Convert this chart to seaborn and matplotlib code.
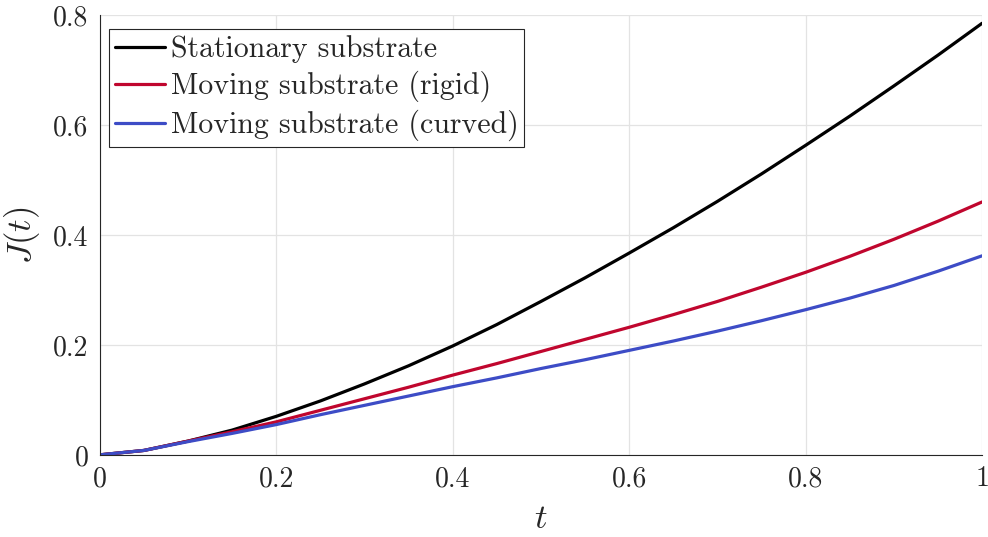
import numpy as np
import pandas as pd
import seaborn as sns
import matplotlib
matplotlib.use("Agg")
import matplotlib.pyplot as plt
from matplotlib.ticker import FuncFormatter

# Flux J(t) over time for three substrate configurations
t = [0.00, 0.05, 0.10, 0.15, 0.20, 0.25, 0.30, 0.35, 0.40, 0.45, 0.50,
     0.55, 0.60, 0.65, 0.70, 0.75, 0.80, 0.85, 0.90, 0.95, 1.00]
j_stationary = [0.000, 0.008, 0.025, 0.045, 0.070, 0.098, 0.129, 0.162, 0.198, 0.237, 0.279,
                0.322, 0.367, 0.413, 0.461, 0.511, 0.563, 0.616, 0.671, 0.727, 0.785]
j_rigid = [0.000, 0.008, 0.025, 0.042, 0.060, 0.081, 0.102, 0.123, 0.145, 0.166, 0.188,
           0.210, 0.232, 0.255, 0.279, 0.305, 0.332, 0.361, 0.392, 0.425, 0.460]
j_curved = [0.000, 0.008, 0.024, 0.039, 0.055, 0.073, 0.090, 0.107, 0.124, 0.140, 0.157,
            0.173, 0.190, 0.207, 0.225, 0.244, 0.264, 0.285, 0.308, 0.334, 0.362]

series_names = ["Stationary substrate", "Moving substrate (rigid)", "Moving substrate (curved)"]
series_colors = ["#000000", "#C0062E", "#3D4CC6"]
x_ticks = [0, 0.2, 0.4, 0.6, 0.8, 1]
y_ticks = [0, 0.2, 0.4, 0.6, 0.8]

df = pd.concat([
    pd.DataFrame({"t": t, "J": vals, "series": name})
    for name, vals in zip(series_names, [j_stationary, j_rigid, j_curved])
], ignore_index=True)

sns.set_theme(style="whitegrid")
plt.rcParams.update({
    "font.family": ["cmr10", "DejaVu Serif"],
    "mathtext.fontset": "cm",
    "axes.formatter.use_mathtext": True,
    "axes.unicode_minus": False,
})

fig = plt.figure(figsize=(9.88, 5.37), dpi=100)
ax = fig.add_axes([0.101, 0.153, 0.893, 0.819])

sns.lineplot(data=df, x="t", y="J", hue="series", hue_order=series_names,
             palette=series_colors, linewidth=2.3, ax=ax, legend=True)

ax.set_xlim(0, 1)
ax.set_ylim(0, 0.8)
ax.set_xticks(x_ticks)
ax.set_yticks(y_ticks)
fmt = FuncFormatter(lambda v, pos: "%g" % v)
ax.xaxis.set_major_formatter(fmt)
ax.yaxis.set_major_formatter(fmt)

ax.grid(True, color="#E3E3E3", linewidth=0.9)
ax.set_axisbelow(True)
for side in ["top", "right"]:
    ax.spines[side].set_visible(False)
for side in ["left", "bottom"]:
    ax.spines[side].set_visible(True)
    ax.spines[side].set_color("#262626")
    ax.spines[side].set_linewidth(0.8)

ax.tick_params(axis="both", direction="in", length=6, width=0.8, color="#262626",
               labelsize=20, labelcolor="#262626", pad=8)

ax.set_xlabel("$t$", fontsize=25, labelpad=8, color="#262626")
ax.set_ylabel("$J(t)$", fontsize=25, labelpad=8, color="#262626")

handles, labels = ax.get_legend_handles_labels()
leg = ax.legend(handles, labels, loc="upper left", bbox_to_anchor=(0.011, 0.968),
                fontsize=21.5, frameon=True, fancybox=False, framealpha=1,
                edgecolor="#262626", handlelength=1.65, handletextpad=0.2,
                borderpad=0.2, labelspacing=0.26, borderaxespad=0.0)
leg.get_frame().set_linewidth(0.8)

fig.savefig("out.png", dpi=100)
